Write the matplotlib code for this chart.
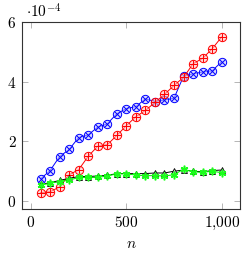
import matplotlib
matplotlib.use("Agg")
import matplotlib.pyplot as plt
from matplotlib.ticker import FixedLocator

plt.rcParams['mathtext.fontset'] = 'cm'
plt.rcParams['font.family'] = ['DejaVu Serif']

n = [50, 100, 150, 200, 250, 300, 350, 400, 450, 500,
     550, 600, 650, 700, 750, 800, 850, 900, 950, 1000]
blue = [0.73, 1.01, 1.48, 1.72, 2.12, 2.21, 2.47, 2.58, 2.92, 3.09,
        3.16, 3.42, 3.33, 3.38, 3.44, 4.18, 4.26, 4.32, 4.36, 4.67]
red = [0.27, 0.30, 0.46, 0.87, 1.04, 1.49, 1.83, 1.88, 2.19, 2.52,
       2.82, 3.03, 3.30, 3.57, 3.87, 4.14, 4.60, 4.78, 5.10, 5.50]
black = [0.55, 0.60, 0.68, 0.75, 0.81, 0.81, 0.83, 0.85, 0.91, 0.91,
         0.91, 0.91, 0.93, 0.93, 0.99, 1.03, 0.99, 0.97, 1.01, 1.03]
green = [0.53, 0.58, 0.64, 0.69, 0.78, 0.78, 0.78, 0.83, 0.90, 0.90,
         0.86, 0.84, 0.84, 0.83, 0.87, 1.06, 0.97, 0.95, 0.99, 0.94]
scale = 1e-4
xticks = [0, 500, 1000]
xticklabels = [r'$0$', r'$500$', r'$1{,}000$']
yticks = [0, 2, 4, 6]

fig = plt.figure(figsize=(2.5, 2.59), dpi=100)
ax = fig.add_axes([0.088, 0.193, 0.872, 0.722])

def sc(v):
    return [x * scale for x in v]

lw = 0.7
ms = 6.0
# blue otimes
ax.plot(n, sc(blue), color='blue', lw=lw, marker='o', ms=ms,
        mfc=(0.75, 0.75, 1.0, 0.6), mec='blue', mew=0.7)
ax.plot(n, sc(blue), ls='none', marker='x', ms=ms*0.7, mec='blue', mew=0.7)
# red oplus
ax.plot(n, sc(red), color='red', lw=lw, marker='o', ms=ms,
        mfc=(1.0, 0.75, 0.75, 0.6), mec='red', mew=0.7)
ax.plot(n, sc(red), ls='none', marker='+', ms=ms, mec='red', mew=0.7)
# black triangles
ax.plot(n, sc(black), color='black', lw=lw, marker='^', ms=4.5,
        mfc=(0.8, 0.8, 0.8), mec='black', mew=0.6)
# green asterisks
ax.plot(n, sc(green), color=(0, 0.9, 0), lw=lw, marker=(6, 2, 0), ms=5.5,
        mec=(0.1, 1.0, 0.1), mew=1.1)

ax.set_xlim(-47, 1096)
ax.set_ylim(-0.28e-4, 6e-4)
ax.xaxis.set_major_locator(FixedLocator(xticks))
ax.set_xticklabels(xticklabels)
ax.yaxis.set_major_locator(FixedLocator([t * scale for t in yticks]))
ax.set_yticklabels([rf'${t}$' for t in yticks])
ax.tick_params(direction='in', length=4, width=0.5, color='#999999',
               top=True, right=True, labelsize=11, pad=4)
for s in ax.spines.values():
    s.set_color('#333333')
    s.set_linewidth(0.8)
ax.set_xlabel(r'$n$', fontsize=11, labelpad=4)
fig.text(0.105, 0.955, r'$\cdot 10^{-4}$', fontsize=11, ha='left', va='center')

fig.savefig('out.png', dpi=100)
